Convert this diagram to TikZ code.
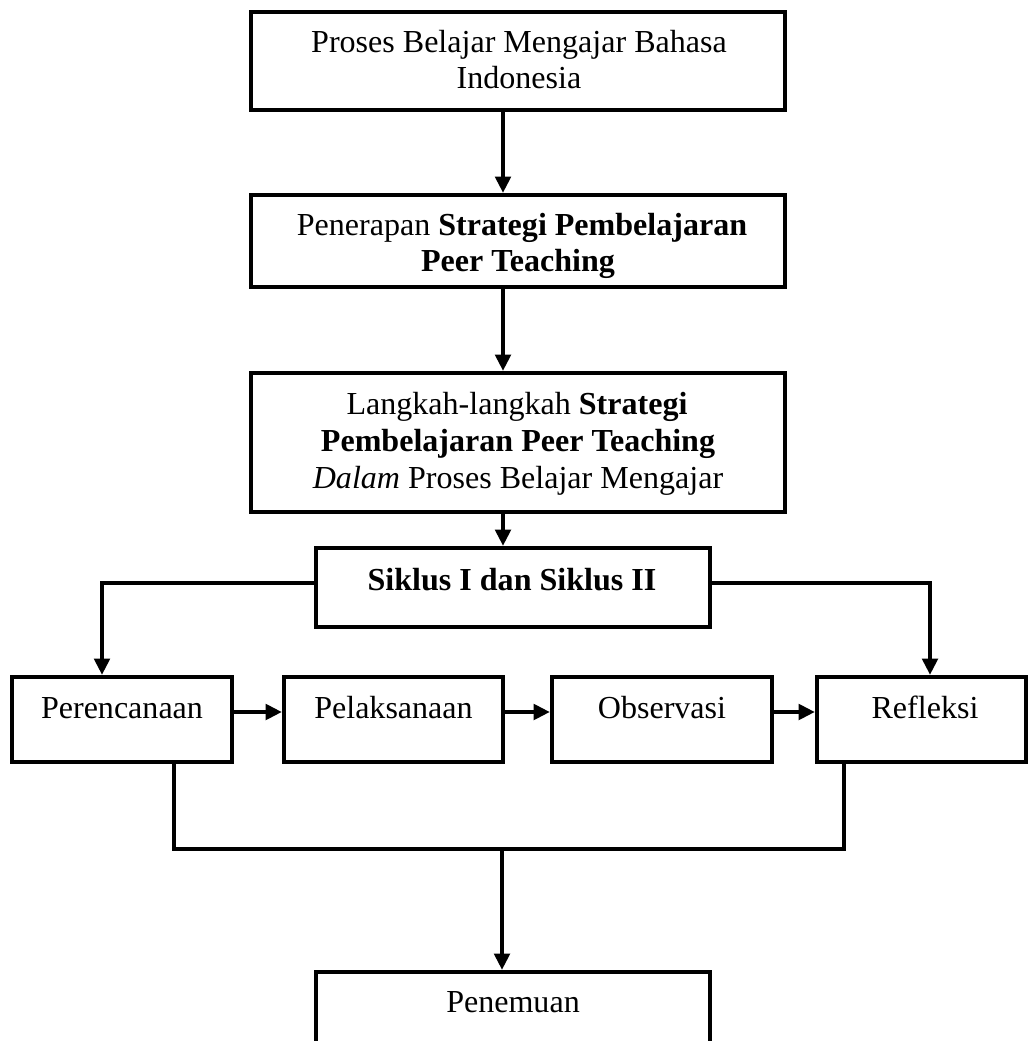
\documentclass[tikz,border=0pt]{standalone}
\usepackage{fontspec}
\setmainfont{Liberation Serif}
\usetikzlibrary{arrows.meta,calc}
\def\upx{0.39pt}
\begin{document}
\begin{tikzpicture}[x=0.39pt,y=-0.39pt,
  box/.style={draw,line width=1.6pt,inner sep=0pt,minimum width={#1*\upx}},
  boxh/.style={minimum height={#1*\upx}},
  arr/.style={line width=1.6pt,-{Triangle[length=6.4pt,width=6pt]}},
  ln/.style={line width=1.6pt},
  txt/.style={anchor=base,inner sep=0pt,font=\fontsize{12.5}{14}\selectfont}]
\clip (0,0) rectangle (1028,1041);
\useasboundingbox (0,0) rectangle (1028,1041);
% boxes
\node[box=534,boxh=98]  (b1) at (518,61) {};
\node[box=534,boxh=92]  (b2) at (518,241) {};
\node[box=534,boxh=139] (b3) at (518,442.5) {};
\node[box=394,boxh=79]  (sik) at (513,587.5) {};
\node[box=220,boxh=85]  (per) at (122,719.5) {};
\node[box=219,boxh=85]  (pel) at (393.5,719.5) {};
\node[box=220,boxh=85]  (obs) at (662,719.5) {};
\node[box=209,boxh=85]  (ref) at (921.5,719.5) {};
\node[box=394,boxh=120] (pen) at (513,1032) {};
% texts
\node[txt] (t1a) at (519,53) {Proses Belajar Mengajar Bahasa};
\node[txt] (t1b) at (519,89) {Indonesia};
\node[txt] (t2a) at (522,236) {Penerapan \textbf{Strategi Pembelajaran}};
\node[txt] (t2b) at (518,272) {\textbf{Peer Teaching}};
\node[txt] (t3a) at (517,415) {Langkah-langkah \textbf{Strategi}};
\node[txt] (t3b) at (518,452) {\textbf{Pembelajaran Peer Teaching}};
\node[txt] (t3c) at (518,488) {\textit{Dalam} Proses Belajar Mengajar};
\node[txt] (tsik) at (512,590) {\textbf{Siklus I dan Siklus II}};
\node[txt] (tper) at (122,718) {Perencanaan};
\node[txt] (tpel) at (393.5,718) {Pelaksanaan};
\node[txt] (tobs) at (662,718) {Observasi};
\node[txt] (tref) at (925,718) {Refleksi};
\node[txt] (tpen) at (513,1012) {Penemuan};
% connectors
\draw[arr] (b1.south -| 503,0) -- (b2.north -| 503,0);
\draw[arr] (b2.south -| 503,0) -- (b3.north -| 503,0);
\draw[arr] (b3.south -| 503,0) -- (sik.north -| 503,0);
\draw[arr] (sik.west |- 0,583) -| (per.north -| 102,0);
\draw[arr] (sik.east |- 0,583) -| (ref.north -| 930,0);
\draw[arr] (per.east |- 0,712) -- (pel.west |- 0,712);
\draw[arr] (pel.east |- 0,712) -- (obs.west |- 0,712);
\draw[arr] (obs.east |- 0,712) -- (ref.west |- 0,712);
\coordinate (jn) at (502,849);
\draw[ln] (per.south -| 174,0) |- (jn) -| (ref.south -| 844,0);
\draw[arr] (jn) -- (pen.north -| 502,0);
\end{tikzpicture}
\end{document}
